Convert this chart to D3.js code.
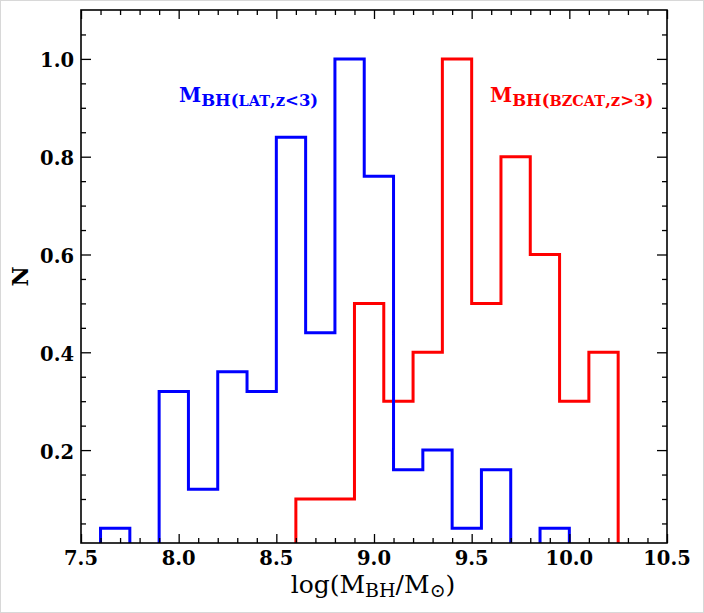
<!DOCTYPE html>
<html>
<head>
<meta charset="utf-8">
<script src="https://cdn.jsdelivr.net/npm/d3@7"></script>
<style>
  body { margin: 0; background: #fff; }
  svg { display: block; }
</style>
</head>
<body>
<svg id="chart"></svg>
<script>
// histogram bins (left edges) and normalised counts
const binWidth = 0.15;
const latBins = [7.6, 7.75, 7.9, 8.05, 8.2, 8.35, 8.5, 8.65, 8.8, 8.95, 9.1, 9.25, 9.4, 9.55, 9.7, 9.85];
const latVals = [0.04, 0, 0.32, 0.12, 0.36, 0.32, 0.84, 0.44, 1.0, 0.76, 0.16, 0.2, 0.04, 0.16, 0, 0.04];
const bzcatBins = [8.6, 8.75, 8.9, 9.05, 9.2, 9.35, 9.5, 9.65, 9.8, 9.95, 10.1];
const bzcatVals = [0.1, 0.1, 0.5, 0.3, 0.4, 1.0, 0.5, 0.8, 0.6, 0.3, 0.4];

const xTicks = [7.5, 8.0, 8.5, 9.0, 9.5, 10.0, 10.5];
const yTicks = [0.2, 0.4, 0.6, 0.8, 1.0];

const width = 704;
const height = 613;
const margin = { top: 10, right: 37, bottom: 70, left: 81 };

const svg = d3.select("#chart")
    .attr("width", width)
    .attr("height", height);

// faint border round the picture
svg.append("rect")
    .attr("x", 0.5).attr("y", 0.5)
    .attr("width", width - 1).attr("height", height - 1)
    .attr("fill", "#fff")
    .attr("stroke", "#d8d8d8");

const x = d3.scaleLinear()
    .domain([7.5, 10.5])
    .range([margin.left, width - margin.right]);
const y = d3.scaleLinear()
    .domain([0.01, 1.1])
    .range([height - margin.bottom, margin.top]);

const x0 = margin.left, x1 = width - margin.right;
const y0 = height - margin.bottom, y1 = margin.top;

svg.append("clipPath").attr("id", "clip")
  .append("rect")
    .attr("x", x0).attr("y", y1)
    .attr("width", x1 - x0).attr("height", y0 - y1);

// step outline of a histogram
function stepPoints(bins, vals) {
    const pts = [[bins[0], 0]];
    bins.forEach((b, i) => pts.push([b, vals[i]]));
    const last = bins[bins.length - 1] + binWidth;
    pts.push([last, vals[vals.length - 1]]);
    pts.push([last, 0]);
    return pts;
}

const line = d3.line()
    .x(d => x(d[0]))
    .y(d => y(d[1]))
    .curve(d3.curveStepAfter);

const plot = svg.append("g").attr("clip-path", "url(#clip)");

plot.append("path")
    .datum(stepPoints(bzcatBins, bzcatVals))
    .attr("fill", "none")
    .attr("stroke", "#ff0000")
    .attr("stroke-width", 3)
    .attr("d", line);

plot.append("path")
    .datum(stepPoints(latBins, latVals))
    .attr("fill", "none")
    .attr("stroke", "#0000ff")
    .attr("stroke-width", 3)
    .attr("d", line);

// inward ticks on all four sides
const tickStyle = g => g.select(".domain").remove();
const xMinor = d3.range(7.6, 10.45, 0.1).map(v => +v.toFixed(1)).filter(v => !xTicks.includes(v));
const yMinor = d3.range(0.05, 1.1, 0.05).map(v => +v.toFixed(2)).filter(v => !yTicks.includes(v));

function addTicks(axisFn, scale, vals, len, transform) {
    svg.append("g")
        .attr("transform", transform)
        .call(axisFn(scale).tickValues(vals).tickSize(len).tickFormat(""))
        .call(tickStyle)
        .selectAll("line").attr("stroke", "#000").attr("stroke-width", 1.3);
}

addTicks(d3.axisTop, x, xTicks, 9, `translate(0,${y0})`);
addTicks(d3.axisTop, x, xMinor, 5, `translate(0,${y0})`);
addTicks(d3.axisBottom, x, xTicks, 9, `translate(0,${y1})`);
addTicks(d3.axisBottom, x, xMinor, 5, `translate(0,${y1})`);
addTicks(d3.axisRight, y, yTicks, 10, `translate(${x0},0)`);
addTicks(d3.axisRight, y, yMinor, 5, `translate(${x0},0)`);
addTicks(d3.axisLeft, y, yTicks, 10, `translate(${x1},0)`);
addTicks(d3.axisLeft, y, yMinor, 5, `translate(${x1},0)`);

// frame
svg.append("rect")
    .attr("x", x0).attr("y", y1)
    .attr("width", x1 - x0).attr("height", y0 - y1)
    .attr("fill", "none")
    .attr("stroke", "#000")
    .attr("stroke-width", 1.6);

// tick labels
svg.append("g").selectAll("text")
    .data(xTicks)
    .enter().append("text")
    .attr("x", d => x(d))
    .attr("y", y0 + 22)
    .attr("text-anchor", "middle")
    .attr("font-family", "DejaVu Serif")
    .attr("font-weight", "bold")
    .attr("font-size", 19.5)
    .text(d => d.toFixed(1));

svg.append("g").selectAll("text")
    .data(yTicks)
    .enter().append("text")
    .attr("x", x0 - 7)
    .attr("y", d => y(d) + 8.5)
    .attr("text-anchor", "end")
    .attr("font-family", "DejaVu Serif")
    .attr("font-weight", "bold")
    .attr("font-size", 19.5)
    .text(d => d.toFixed(1));

// axis titles
svg.append("text")
    .attr("transform", `translate(28,${(y0 + y1) / 2}) rotate(-90)`)
    .attr("text-anchor", "middle")
    .attr("font-family", "DejaVu Serif")
    .attr("font-weight", "bold")
    .attr("font-size", 22)
    .text("N");

const xt = svg.append("text")
    .attr("x", (x0 + x1) / 2 - 1)
    .attr("y", 593)
    .attr("text-anchor", "middle")
    .attr("font-family", "DejaVu Serif")
    .attr("font-size", 25);
xt.append("tspan").text("log(M");
xt.append("tspan").attr("font-size", 19).attr("dy", 4).text("BH");
xt.append("tspan").attr("dy", -4).text("/M");
xt.append("tspan").attr("font-size", 19).attr("dy", 4).text("\u2299");
xt.append("tspan").attr("dy", -4).text(")");

// series labels
function seriesLabel(xPos, color, name, rel) {
    const t = svg.append("text")
        .attr("x", xPos)
        .attr("y", 102)
        .attr("fill", color)
        .attr("font-family", "DejaVu Serif")
        .attr("font-weight", "bold")
        .attr("font-size", 20);
    t.append("tspan").text("M");
    t.append("tspan").attr("font-size", 16.5).attr("dy", 4).text("BH(");
    t.append("tspan").attr("font-size", 14.5).text(name);
    t.append("tspan").attr("font-size", 16.5).text("," + rel + ")");
}
seriesLabel(179, "#0000ff", "LAT", "z<3");
seriesLabel(490, "#ff0000", "BZCAT", "z>3");
</script>
</body>
</html>
